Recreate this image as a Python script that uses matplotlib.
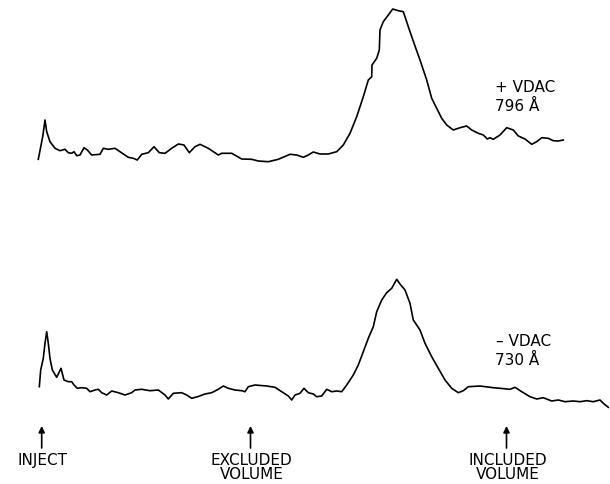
import matplotlib
matplotlib.use("Agg")
import matplotlib.pyplot as plt

# Traces (elution position, detector response), in image units
top_x = [38.3, 42.7, 45, 46.7, 50, 55, 60, 65, 68.3, 71.7, 74, 76.7, 80, 84, 87.3, 91.7, 100, 103.3,
         108.3, 115, 120, 128.3, 133.3, 137.3, 141.7, 148.3, 154, 159.3, 165, 171.7, 178.3, 184, 189.3,
         195, 200, 208.3, 218.3, 221.7, 231.7, 241.7, 251.7, 258.3, 268.3, 278.3, 290, 296.7, 303.3,
         308.3, 313.3, 320, 328.3, 336.7, 343.3, 350, 356.7, 363.3, 368.3, 371.7, 372, 376.7, 379.3,
         380, 383.3, 388.3, 392.7, 398.3, 403.3, 410, 415, 420, 426.7, 431.7, 436.7, 441.7, 446.7,
         453.3, 460, 466.7, 471.7, 478.3, 483.3, 487.3, 490, 493.3, 500, 506.7, 513.3, 518.3, 525,
         531.7, 536.7, 541.7, 548.3, 553.3, 558.3, 563.3]
top_y = [159.3, 136.7, 120, 131.7, 141.7, 148.3, 150.7, 149.3, 152.7, 153.3, 151.7, 155.7, 155, 147.7,
         150, 155, 154.3, 148.3, 149.3, 148.3, 151.7, 157.3, 158.3, 160, 154.3, 152.7, 146.7, 152.7,
         153.3, 148.3, 144, 145, 152.7, 146.7, 144.3, 148.3, 155, 153.3, 153.3, 159, 159.3, 161, 161.7,
         159.3, 154.3, 155, 157.3, 155, 152, 154, 154, 151.7, 145, 133.3, 116.7, 96.7, 80, 76.7, 65,
         58.3, 50, 30, 21.7, 15, 9, 10.7, 11.7, 31.7, 46, 60, 80, 98.3, 108.3, 118.3, 125, 130, 127.7,
         126, 130, 133.3, 135, 139, 137.7, 139.3, 135, 127.7, 130, 136, 139, 144.3, 141.7, 137.7,
         138.3, 140.7, 141, 140]

bottom_x = [39.3, 40.7, 43.3, 45, 46.7, 48.3, 50, 52.3, 56.7, 61, 64, 68.3, 71.7, 74, 77.3, 81.7, 86.7,
            90, 95, 98.3, 101.7, 106.7, 111.7, 118.3, 125, 131.7, 135, 141.7, 150, 158.3, 165, 168.3,
            173.3, 181.7, 186.7, 191.7, 198.3, 205, 211.7, 218.3, 223.3, 228.3, 235, 241.7, 245,
            248.3, 255, 266.7, 275, 281.7, 288.3, 291.7, 295, 300, 304, 308.3, 313.3, 316.7, 321.7,
            326.7, 331.7, 336.7, 341.7, 346.7, 353.3, 358.3, 363.3, 368.3, 373.3, 376.7, 381.7, 386.7,
            391.7, 396.7, 400, 405, 410, 413.3, 420, 425, 431.7, 438.3, 445, 451.7, 458.3, 463.3,
            468.3, 480, 493.3, 500, 510, 515, 521.7, 530, 536.7, 543.3, 551.7, 558.3, 565, 573.3, 580,
            586.7, 593.3, 600, 603.3, 608.3]
bottom_y = [386.7, 370, 358.3, 343.3, 331.7, 343.3, 358.3, 370, 377.3, 368.3, 380, 381.7, 381.7, 385,
            388.3, 387.7, 388.3, 391.7, 390, 389.3, 392.7, 395, 391, 392.7, 395, 392.7, 390, 389.3,
            390.7, 390, 395, 399, 393.3, 392.7, 395, 398.3, 396.5, 394, 392.7, 389.3, 386, 388.3, 390,
            390.7, 391.7, 386.7, 385, 386, 387.3, 391.7, 396, 400, 395, 393.3, 388.3, 392.7, 394,
            396.7, 396, 389.3, 391.7, 391, 391.7, 385, 375, 365, 351.7, 338.3, 326.7, 311.7, 300,
            292.7, 288.3, 279.3, 284, 290, 303.3, 320, 330, 343.3, 356.7, 368.3, 380, 388.3, 392.7,
            390.7, 386.7, 386, 387.7, 388.3, 389.3, 387.3, 391.7, 396.7, 399, 397.7, 401, 400, 401.7,
            401, 401.7, 400.7, 401.7, 400, 403.3, 407.3]

trace_labels = [["+ VDAC", "796 Å"], ["– VDAC", "730 Å"]]
marker_x = [41.7, 250.5, 506.5]
marker_labels = ["INJECT", "EXCLUDED\nVOLUME", "INCLUDED\nVOLUME"]

fig = plt.figure(figsize=(6.1, 4.84), dpi=100)
ax = fig.add_axes([0, 0, 1, 1])
ax.set_xlim(0, 610)
ax.set_ylim(484, 0)
ax.axis("off")

ax.plot(top_x, top_y, color="black", lw=1.2, solid_joinstyle="round")
ax.plot(bottom_x, bottom_y, color="black", lw=1.2, solid_joinstyle="round")

fs = 11
ax.text(495, 87, trace_labels[0][0], fontsize=fs, va="center", ha="left")
ax.text(495, 106, trace_labels[0][1], fontsize=fs, va="center", ha="left")
ax.text(496, 342, trace_labels[1][0], fontsize=fs, va="center", ha="left")
ax.text(495, 360, trace_labels[1][1], fontsize=fs, va="center", ha="left")

for mx, lab in zip(marker_x, marker_labels):
    ax.annotate("", xy=(mx, 426), xytext=(mx, 448),
                arrowprops=dict(arrowstyle="-|>", lw=1.2, color="black", mutation_scale=9,
                                shrinkA=0, shrinkB=0))
    ax.text(mx + 1, 453, lab, fontsize=fs, ha="center", va="top", linespacing=0.95,
            multialignment="center")

fig.savefig("out.png", dpi=100)
